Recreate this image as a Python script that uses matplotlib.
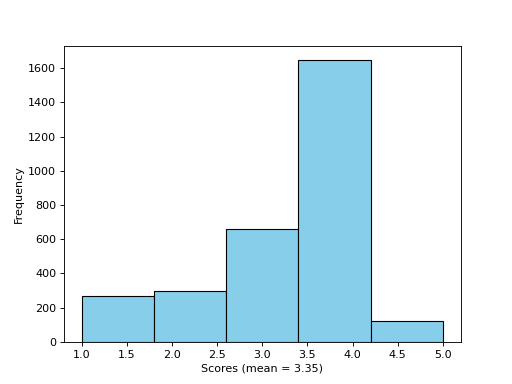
import matplotlib
matplotlib.use("Agg")
import matplotlib.pyplot as plt
import numpy as np

bin_edges = [1.0, 1.8, 2.6, 3.4, 4.2, 5.0]
counts = [270, 296, 659, 1647, 121]
mean_score = 3.35

fig, ax = plt.subplots(figsize=(6.4, 4.8), dpi=80)
edges = np.array(bin_edges)
centers = (edges[:-1] + edges[1:]) / 2
ax.hist(centers, bins=edges, weights=counts, color='skyblue', edgecolor='black')
ax.set_xlabel(f'Scores (mean = {mean_score:.2f})')
ax.set_ylabel('Frequency')
fig.savefig('out.png', dpi=80)
